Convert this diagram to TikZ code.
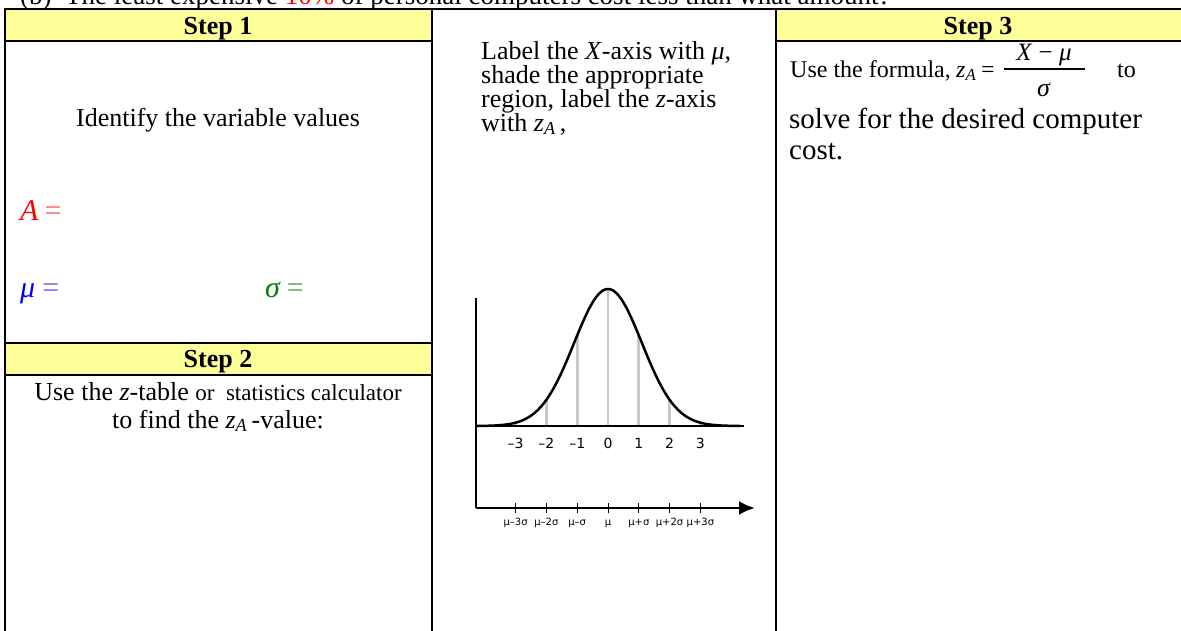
\documentclass[tikz,border=0pt]{standalone}
\usepackage{fontspec}
\setmainfont{Liberation Serif}
\newfontfamily\labfont{DejaVu Sans}
\usetikzlibrary{arrows.meta}
\definecolor{hdrY}{HTML}{FFFF99}
\definecolor{aRed}{HTML}{FF0000}
\definecolor{aRedL}{HTML}{FF6666}
\definecolor{mBlue}{HTML}{0000FF}
\definecolor{mBlueL}{HTML}{6666FF}
\definecolor{sGreen}{HTML}{008000}
\definecolor{sGreenL}{HTML}{55AA55}
\definecolor{tickGray}{HTML}{C8C8C8}
\begin{document}
\begin{tikzpicture}[x=1pt,y=-1pt,
  body/.style={font=\fontsize{26}{29}\selectfont, inner sep=0pt},
  bodysm/.style={font=\fontsize{24}{28}\selectfont, inner sep=0pt},
  bodylg/.style={font=\fontsize{29}{32}\selectfont, inner sep=0pt},
  varfont/.style={font=\fontsize{30}{32}\selectfont, inner sep=0pt},
  hdrtext/.style={font=\fontsize{26}{29}\selectfont\bfseries, inner sep=0pt},
  tablerule/.style={line width=2.5pt},
  zlab/.style={font=\labfont\fontsize{14}{14}\selectfont, inner sep=0pt},
  xlab/.style={font=\labfont\fontsize{10}{10}\selectfont, inner sep=0pt},
  graybar/.style={draw=tickGray, line width=2.8pt},
  axisline/.style={line width=2.5pt}]
\useasboundingbox (0,0) rectangle (1181,630);
\clip (0,0) rectangle (1181,630);
\fill[white] (0,0) rectangle (1181,630);
% title (cut off at the top)
\node[body, font=\fontsize{27}{30}\selectfont, anchor=base west] (title) at (20,4)
  {(b)~~The least expensive \textcolor{aRed}{10\%} of personal computers cost less than what amount?};
% header fills
\fill[hdrY] (5,9) rectangle (432,41);
\fill[hdrY] (776,9) rectangle (1190,41);
\fill[hdrY] (5,343) rectangle (432,375);
% table rules
\draw[tablerule] (5,9) -- (1190,9);
\draw[tablerule] (5,41) -- (432,41);
\draw[tablerule] (776,41) -- (1190,41);
\draw[tablerule] (5,343) -- (432,343);
\draw[tablerule] (5,375) -- (432,375);
\draw[tablerule] (5,8) -- (5,640);
\draw[tablerule] (432,8) -- (432,640);
\draw[tablerule] (776,8) -- (776,640);
% headers
\node[hdrtext, anchor=base] (s1) at (218,34) {Step 1};
\node[hdrtext, anchor=base] (s2) at (218,367) {Step 2};
\node[hdrtext, anchor=base] (s3) at (978,34) {Step 3};
% step 1
\node[body, anchor=base] (ident) at (218,126) {Identify the variable values};
\node[varfont, anchor=base west] (avar) at (20,220) {\textcolor{aRed}{\itshape A}\hspace{6pt}\textcolor{aRedL}{=}};
\node[varfont, anchor=base west] (muvar) at (20,297) {\textcolor{mBlue}{\itshape μ}\hspace{7pt}\textcolor{mBlueL}{=}};
\node[varfont, anchor=base west] (sigvar) at (265,297) {\textcolor{sGreen}{\itshape σ}\hspace{7pt}\textcolor{sGreenL}{=}};
% step 2
\node[body, anchor=base] (st2a) at (218,400) {Use the \textit{z}-table {\fontsize{23}{29}\selectfont or~ statistics calculator}};
\node[body, anchor=base] (st2b) at (218,428) {to find the \textit{z}\textsubscript{\itshape A}\,-value:};
% middle column text
\node[body, anchor=base west] (m1) at (481,59) {Label the \textit{X}-axis with \textit{μ},};
\node[body, anchor=base west] (m2) at (481,83) {shade the appropriate};
\node[body, anchor=base west] (m3) at (481,107) {region, label the \textit{z}-axis};
\node[body, anchor=base west] (m4) at (481,131) {with \textit{z}\textsubscript{\itshape A}\,,};
% step 3
\node[bodysm, anchor=base west] (f1) at (790,77) {Use the formula,};
\node[bodysm, anchor=base west] (fz) at (956,77) {\textit{z}\textsubscript{\itshape A}};
\node[bodysm, anchor=base west] (feq) at (981,77) {=};
\node[bodysm, font=\fontsize{25}{28}\selectfont, anchor=base] (fnum) at (1044,60) {\textit{X} − \textit{μ}};
\node[bodysm, font=\fontsize{26}{28}\selectfont, anchor=base] (fden) at (1044,96) {\textit{σ}};
\coordinate (barl) at (1004,69);
\coordinate (barr) at (1085,69);
\draw[line width=1.3pt] (barl) -- (barr);
\node[bodysm, anchor=base west] (fto) at (1117,77) {to};
\node[bodylg, anchor=base west] (f2) at (789,128) {solve for the desired computer};
\node[bodylg, anchor=base west] (f3) at (789,159) {cost.};
% graph
\foreach \k in {-3,...,3} {
  \draw[graybar] ({608+30.8*\k},426) -- ({608+30.8*\k},{426-137*exp(-(\k*\k)/2.42)});
}
\draw[line width=2.5pt] plot[domain=-4.3:4.3, samples=120, smooth] ({608+30.8*\x},{426-137*exp(-(\x*\x)/2.42)});
\coordinate (yaxtop) at (476,298);
\coordinate (origin) at (476,508);
\coordinate (xaxend) at (755,508);
\coordinate (zaxl) at (476,426);
\coordinate (zaxr) at (744,426);
\draw[axisline] (zaxl) -- (zaxr);
\draw[axisline] (yaxtop) -- (origin);
\draw[axisline, -{Latex[length=16pt,width=14pt]}] (origin) -- (xaxend);
\foreach \k/\zl/\xl in {-3/–3/μ–3σ, -2/–2/μ–2σ, -1/–1/μ–σ, 0/0/μ, 1/1/μ+σ, 2/2/μ+2σ, 3/3/μ+3σ} {
  \draw[line width=0.8pt] ({608+30.8*\k},503) -- ({608+30.8*\k},513);
  \node[zlab, anchor=base] (z\k) at ({608+30.8*\k},448) {\zl};
  \node[xlab, anchor=base] (x\k) at ({608+30.8*\k},525) {\xl};
}
\end{tikzpicture}
\end{document}
